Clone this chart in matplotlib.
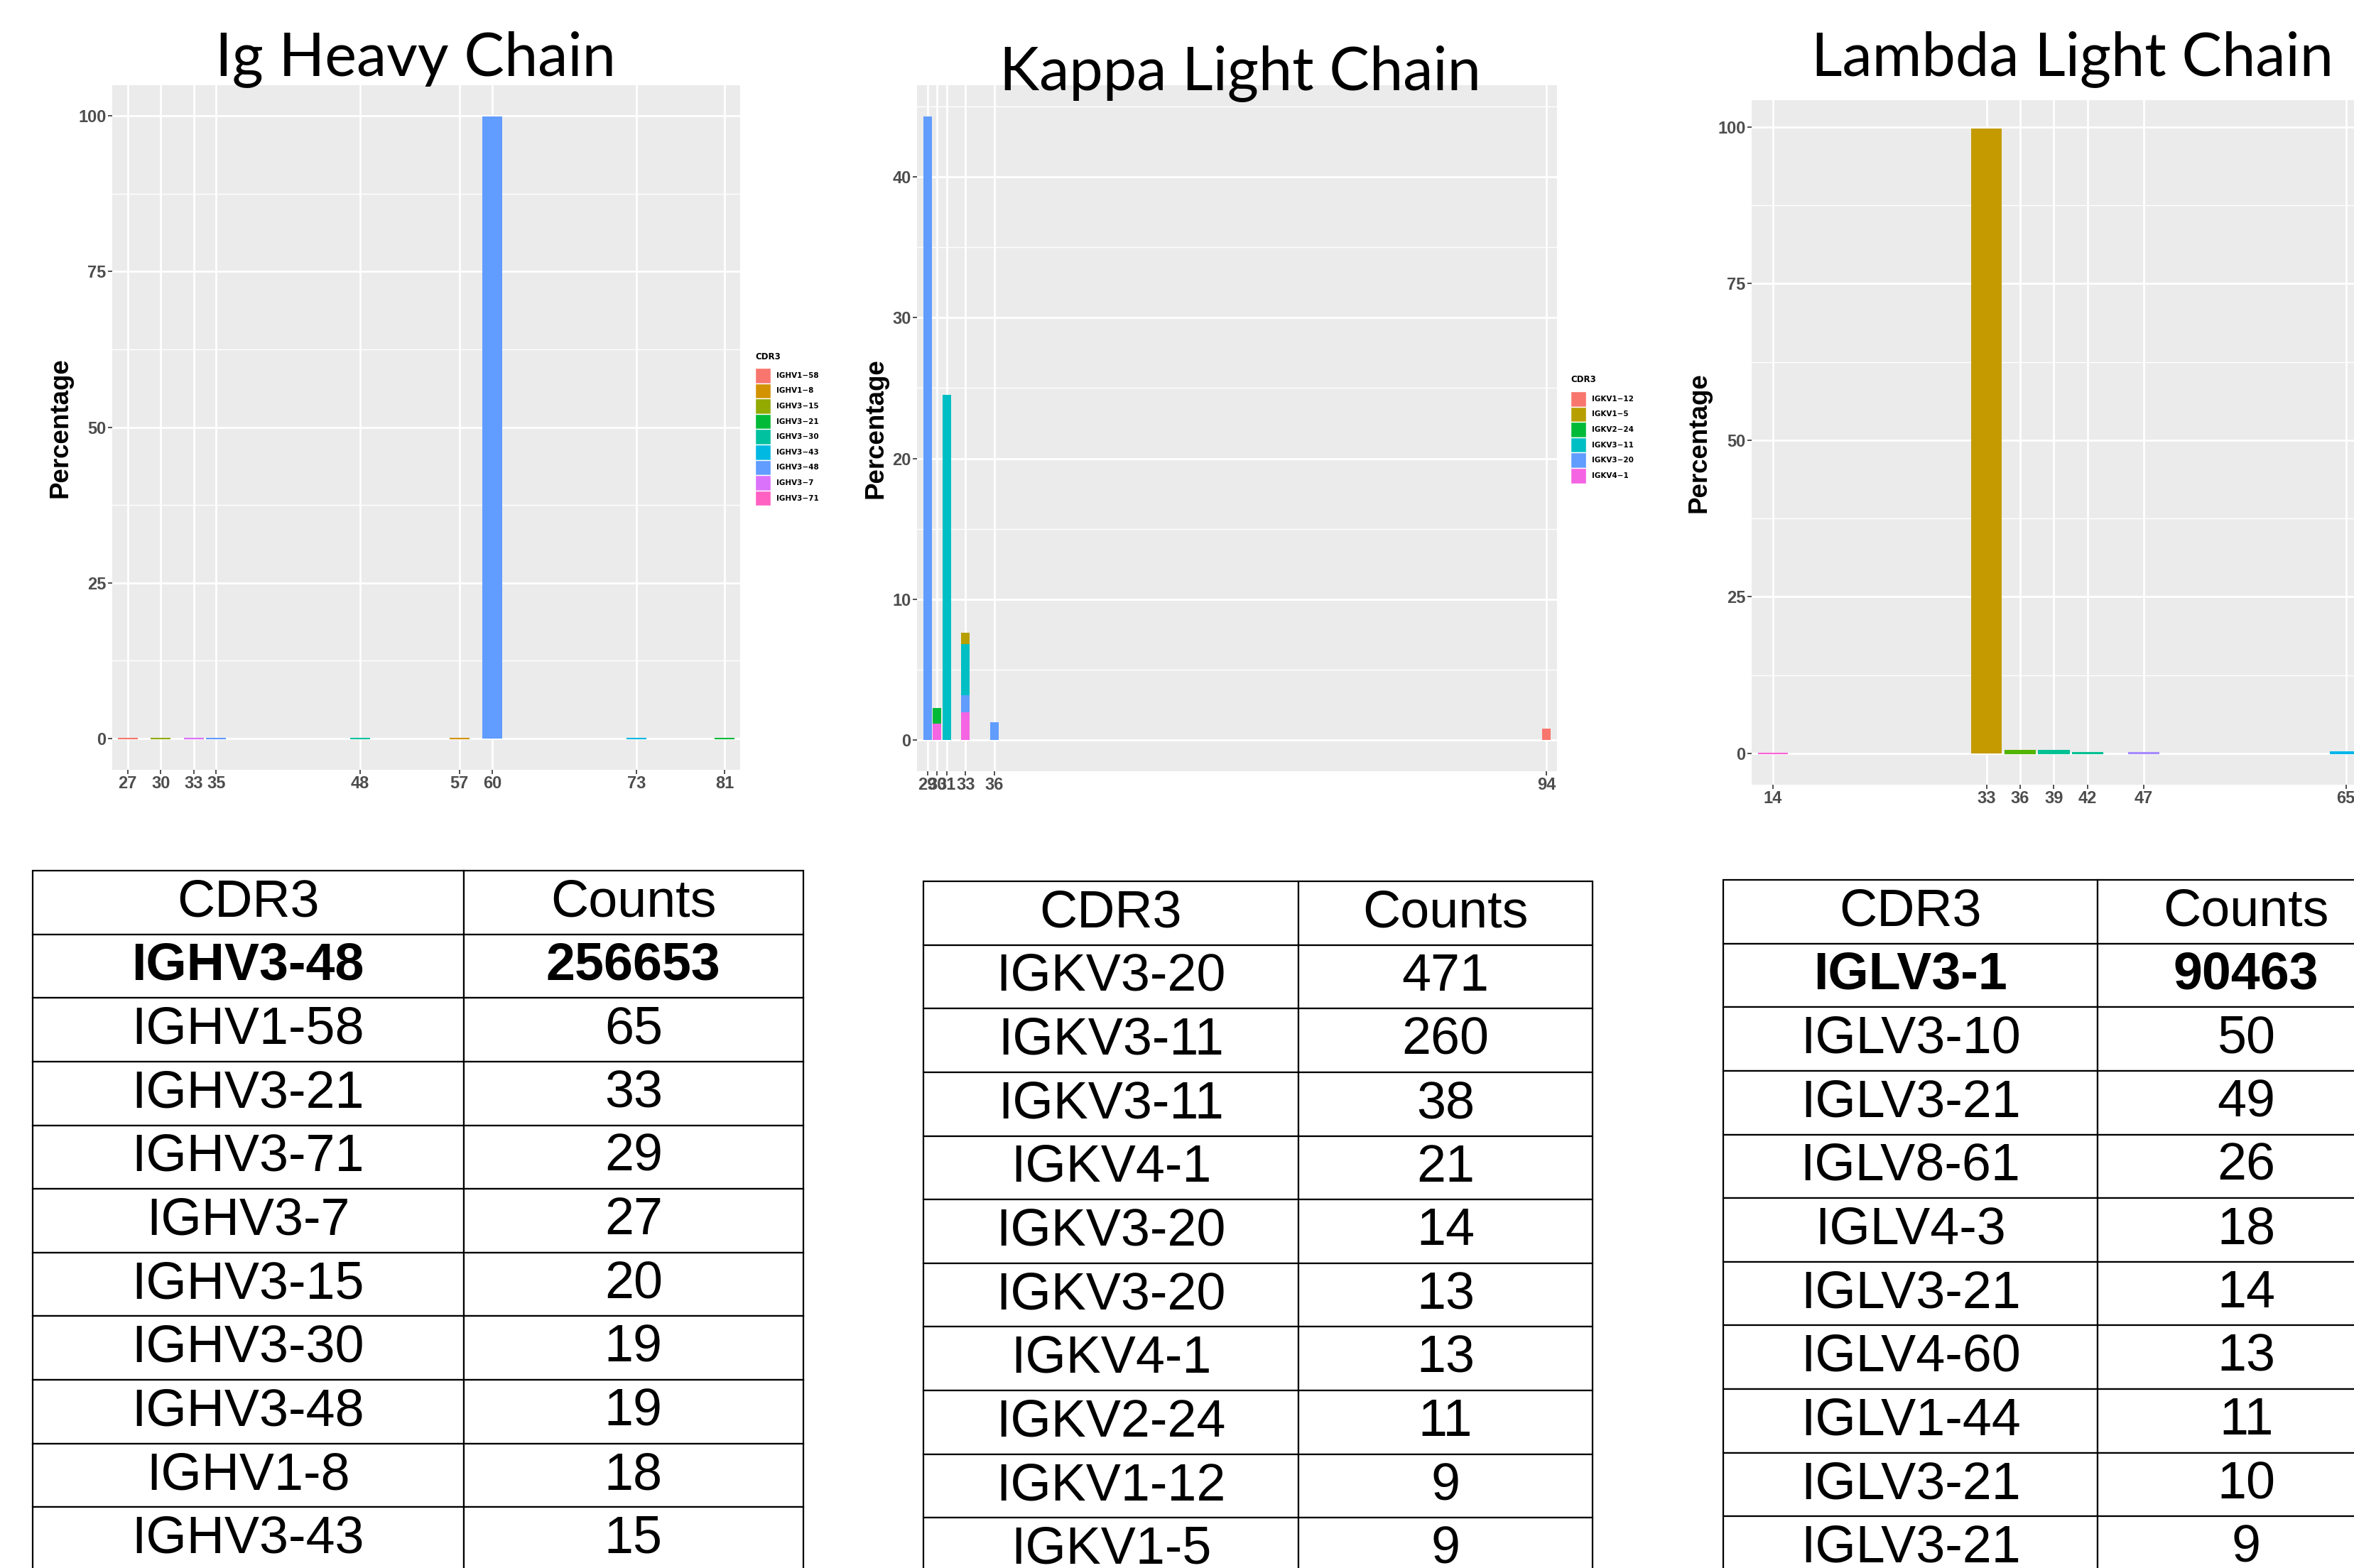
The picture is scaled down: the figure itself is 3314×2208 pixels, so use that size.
import matplotlib
matplotlib.use('Agg')
import matplotlib.pyplot as plt
from matplotlib.patches import Rectangle
from matplotlib.ticker import FixedLocator

W, H = 3314, 2208

# ---- data ----
heavy_genes = ['IGHV1-58', 'IGHV1-8', 'IGHV3-15', 'IGHV3-21', 'IGHV3-30',
               'IGHV3-43', 'IGHV3-48', 'IGHV3-7', 'IGHV3-71']
heavy_colors = ['#F8766D', '#D39200', '#93AA00', '#00BA38', '#00C19F',
                '#00B9E3', '#619CFF', '#DB72FB', '#FF61C3']
heavy_pos = [27, 30, 33, 33, 35, 48, 57, 60, 73, 81]
heavy_bar_gene = ['IGHV1-58', 'IGHV3-15', 'IGHV3-71', 'IGHV3-7', 'IGHV3-48',
                  'IGHV3-30', 'IGHV1-8', 'IGHV3-48', 'IGHV3-43', 'IGHV3-21']
heavy_pct = [0.03, 0.02, 0.01, 0.01, 0.01, 0.01, 0.01, 99.9, 0.01, 0.01]
heavy_ticks = [27, 30, 33, 35, 48, 57, 60, 73, 81]

kappa_genes = ['IGKV1-12', 'IGKV1-5', 'IGKV2-24', 'IGKV3-11', 'IGKV3-20', 'IGKV4-1']
kappa_colors = ['#F8766D', '#B79F00', '#00BA38', '#00BFC4', '#619CFF', '#F564E3']
kappa_pos = [29, 30, 30, 31, 33, 33, 33, 33, 36, 94]
kappa_bar_gene = ['IGKV3-20', 'IGKV4-1', 'IGKV2-24', 'IGKV3-11', 'IGKV4-1',
                  'IGKV3-20', 'IGKV3-11', 'IGKV1-5', 'IGKV3-20', 'IGKV1-12']
kappa_pct = [44.3, 1.2, 1.1, 24.5, 2.0, 1.2, 3.6, 0.85, 1.3, 0.85]
kappa_ticks = [29, 30, 31, 33, 36, 94]

lambda_genes = ['IGLV1-44', 'IGLV3-1', 'IGLV3-10', 'IGLV3-21', 'IGLV4-3',
                'IGLV4-60', 'IGLV8-61']
lambda_colors = ['#F8766D', '#C49A00', '#53B400', '#00C094', '#00B6EB',
                 '#A58AFF', '#FB61D7']
lambda_pos = [14, 33, 36, 39, 42, 47, 65]
lambda_bar_gene = ['IGLV8-61', 'IGLV3-1', 'IGLV3-10', 'IGLV3-21', 'IGLV3-21',
                   'IGLV4-60', 'IGLV4-3']
lambda_pct = [0.03, 99.8, 0.4, 0.4, 0.15, 0.15, 0.2]
lambda_ticks = [14, 33, 36, 39, 42, 47, 65]

heavy_cdr3 = ['IGHV3-48', 'IGHV1-58', 'IGHV3-21', 'IGHV3-71', 'IGHV3-7',
              'IGHV3-15', 'IGHV3-30', 'IGHV3-48', 'IGHV1-8', 'IGHV3-43']
heavy_counts = ['256653', '65', '33', '29', '27', '20', '19', '19', '18', '15']
kappa_cdr3 = ['IGKV3-20', 'IGKV3-11', 'IGKV3-11', 'IGKV4-1', 'IGKV3-20',
              'IGKV3-20', 'IGKV4-1', 'IGKV2-24', 'IGKV1-12', 'IGKV1-5']
kappa_counts = ['471', '260', '38', '21', '14', '13', '13', '11', '9', '9']
lambda_cdr3 = ['IGLV3-1', 'IGLV3-10', 'IGLV3-21', 'IGLV8-61', 'IGLV4-3',
               'IGLV3-21', 'IGLV4-60', 'IGLV1-44', 'IGLV3-21', 'IGLV3-21']
lambda_counts = ['90463', '50', '49', '26', '18', '14', '13', '11', '10', '9']

fig = plt.figure(figsize=(W / 100, H / 100), dpi=100)


def px_axes(x0, y0, x1, y1):
    return fig.add_axes([x0 / W, 1 - y1 / H, (x1 - x0) / W, (y1 - y0) / H])


def gg_legend(x, y, genes, colors):
    # ggplot style legend: title then stacked colour keys, placed in pixels
    fig.text(x, H - y, 'CDR3', transform=None, fontsize=8.5, fontweight='bold',
             va='center', ha='left')
    step = 21.6
    for i, (g, c) in enumerate(zip(genes, colors)):
        top = y + 16 + i * step
        fig.add_artist(Rectangle((x, H - top - step), 22, step, transform=None,
                                 facecolor=c, edgecolor='white', linewidth=1))
        fig.text(x + 30, H - top - step / 2, g.replace('-', '\u2212'),
                 transform=None, fontsize=7.5, fontweight='bold',
                 va='center', ha='left')


def bar_panel(rect, pos, bar_gene, pct, genes, colors, width, ticks, xlim, ylim,
              yticks, yminor, label_x, thin):
    ax = px_axes(*rect)
    cmap = dict(zip(genes, colors))
    bottoms = {}
    for p, g, v in zip(pos, bar_gene, pct):
        b = bottoms.get(p, 0)
        ax.bar(p, v, width=width, bottom=b, color=cmap[g],
               edgecolor=cmap[g] if v < thin else 'none',
               linewidth=1.5 if v < thin else 0, zorder=3)
        bottoms[p] = b + v
    ax.set_facecolor('#EBEBEB')
    for s in ax.spines.values():
        s.set_visible(False)
    ax.set_xlim(*xlim)
    ax.set_ylim(*ylim)
    ax.set_xticks(ticks)
    ax.set_yticks(yticks)
    ax.yaxis.set_minor_locator(FixedLocator(yminor))
    ax.grid(which='major', color='white', linewidth=2.0, zorder=0)
    ax.grid(which='minor', axis='y', color='white', linewidth=1.0, zorder=0)
    ax.set_axisbelow(True)
    ax.tick_params(which='major', length=4, width=1.2, color='#333333',
                   labelcolor='#4D4D4D', labelsize=17, pad=2)
    ax.tick_params(which='minor', length=0)
    for t in ax.get_xticklabels() + ax.get_yticklabels():
        t.set_fontweight('bold')
        t.set_family(['Liberation Sans', 'DejaVu Sans'])
    ax.set_ylabel('Percentage', fontsize=26.5, fontweight='bold',
                  family=['Liberation Sans', 'DejaVu Sans'])
    ax.yaxis.set_label_coords(label_x, 0.5)
    return ax


bar_panel((158, 120, 1042, 1084), heavy_pos, heavy_bar_gene, heavy_pct,
          heavy_genes, heavy_colors, 1.8, heavy_ticks, (25.6, 82.4), (-5, 104.9),
          [0, 25, 50, 75, 100], [12.5, 37.5, 62.5, 87.5], -0.063, 1)
bar_panel((1291, 120, 2192, 1086), kappa_pos, kappa_bar_gene, kappa_pct,
          kappa_genes, kappa_colors, 0.9, kappa_ticks, (27.9, 95.1), (-2.2, 46.5),
          [0, 10, 20, 30, 40], [5, 15, 25, 35, 45], -0.0455, 0.5)
bar_panel((2466, 141, 3366, 1105), lambda_pos, lambda_bar_gene, lambda_pct,
          lambda_genes, lambda_colors, 2.7, lambda_ticks, (12.1, 69), (-5, 104.3),
          [0, 25, 50, 75, 100], [12.5, 37.5, 62.5, 87.5], -0.063, 1)

# the lambda legend lies beyond the right edge of the picture, so only two are drawn
gg_legend(1063, 502, heavy_genes, heavy_colors)
gg_legend(2211, 535, kappa_genes, kappa_colors)

# panel titles
title_font = ['Lato', 'DejaVu Sans']
fig.text(585, H - 106, 'Ig Heavy Chain', transform=None, fontsize=61,
         ha='center', va='baseline', family=title_font)
fig.text(1746, H - 126, 'Kappa Light Chain', transform=None, fontsize=61,
         ha='center', va='baseline', family=title_font)
fig.text(2917, H - 106, 'Lambda Light Chain', transform=None, fontsize=61,
         ha='center', va='baseline', family=title_font)


def count_table(rect, cdr3, counts, split, bold_first):
    ax = px_axes(*rect)
    ax.axis('off')
    tb = ax.table(cellText=[[a, b] for a, b in zip(cdr3, counts)],
                  colLabels=['CDR3', 'Counts'], cellLoc='center',
                  colWidths=[split, 1 - split], bbox=[0, 0, 1, 1])
    tb.auto_set_font_size(False)
    tb.set_fontsize(53)
    for (r, c), cell in tb.get_celld().items():
        cell.set_linewidth(1.6)
        cell.set_edgecolor('black')
        cell.get_text().set_family(['Liberation Sans', 'DejaVu Sans'])
        if r == 1 and bold_first:
            cell.get_text().set_fontweight('bold')
    return tb


count_table((46, 1226, 1131, 2212), heavy_cdr3, heavy_counts, 0.559, True)
count_table((1300, 1241, 2242, 2227), kappa_cdr3, kappa_counts, 0.5605, False)
count_table((2426, 1239, 3371, 2225), lambda_cdr3, lambda_counts, 0.558, True)

fig.savefig('out.png', dpi=100)
